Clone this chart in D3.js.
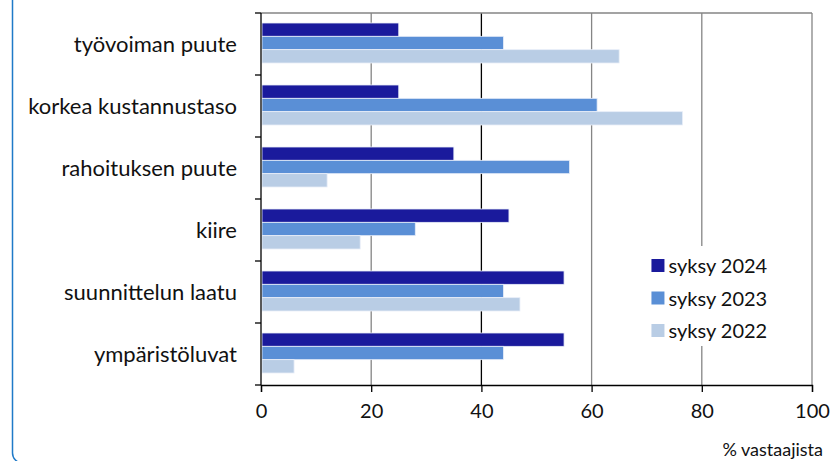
<!DOCTYPE html>
<html>
<head>
<meta charset="utf-8">
<script src="https://cdn.jsdelivr.net/npm/d3@7"></script>
<style>
  body { margin: 0; background: #fff; }
  svg { display: block; font-family: Lato, "Open Sans", sans-serif; }
</style>
</head>
<body>
<div id="chart"></div>
<script>
const width = 830;
const height = 461;

const margin = { top: 13, left: 261, bottom: 76, right: 18 };

// data
const categories = ["työvoiman puute", "korkea kustannustaso", "rahoituksen puute", "kiire", "suunnittelun laatu", "ympäristöluvat"];
const seriesNames = ["syksy 2024", "syksy 2023", "syksy 2022"];
const s2024 = [25, 25, 35, 45, 55, 55];
const s2023 = [44, 61, 56, 28, 44, 44];
const s2022 = [65, 76.5, 12, 18, 47, 6];
const xTicks = [0, 20, 40, 60, 80, 100];

const colors = ["#1a1a9c", "#5a8fd6", "#b9cde5"];
const seriesValues = [s2024, s2023, s2022];

const rows = [];
categories.forEach((c, i) => {
    seriesNames.forEach((s, j) => rows.push({ cat: c, series: s, value: seriesValues[j][i] }));
});

const innerW = width - margin.left - margin.right;
const innerH = height - margin.top - margin.bottom;

const svg = d3.select("#chart").append("svg").attr("width", width).attr("height", height);

// outer rounded frame (only left edge visible)
svg.append("rect")
    .attr("x", 12.5).attr("y", -20)
    .attr("width", 900).attr("height", 483)
    .attr("rx", 10)
    .attr("fill", "none")
    .attr("stroke", "#1f7ac8")
    .attr("stroke-width", 1.5);

const g = svg.append("g").attr("transform", `translate(${margin.left},${margin.top})`);

// scales
const xScale = d3.scaleLinear().domain([0, 100]).range([0, innerW]);
const yScale = d3.scaleBand().domain(categories).range([0, innerH]);
const subScale = d3.scaleBand().domain(seriesNames).range([10, yScale.bandwidth() - 12]);
const colorScale = d3.scaleOrdinal().domain(seriesNames).range(colors);

// grid lines
g.selectAll("line.grid")
    .data(xTicks.slice(1))
    .join("line")
    .attr("class", "grid")
    .attr("x1", d => xScale(d)).attr("x2", d => xScale(d))
    .attr("y1", 0).attr("y2", innerH)
    .attr("stroke", d => d === 40 ? "#000" : "#858585")
    .attr("stroke-width", 1.3);

g.append("line")
    .attr("x1", 0).attr("x2", innerW)
    .attr("y1", 0).attr("y2", 0)
    .attr("stroke", "#858585").attr("stroke-width", 1.3);

// bars
g.selectAll("rect.bar")
    .data(rows)
    .join("rect")
    .attr("class", "bar")
    .attr("x", xScale(0) + 1)
    .attr("y", d => yScale(d.cat) + subScale(d.series))
    .attr("width", d => xScale(d.value) - xScale(0) - 1)
    .attr("height", subScale.bandwidth())
    .attr("fill", d => colorScale(d.series))
    .attr("stroke", "#e8eef8")
    .attr("stroke-width", 0.8);

// y axis
const yAxis = g.append("g").attr("class", "y-axis");
yAxis.append("line")
    .attr("x1", 0).attr("x2", 0).attr("y1", 0).attr("y2", innerH)
    .attr("stroke", "#000").attr("stroke-width", 1.3);
yAxis.selectAll("line.ytick")
    .data(d3.range(categories.length + 1))
    .join("line")
    .attr("class", "ytick")
    .attr("x1", -6).attr("x2", 0)
    .attr("y1", i => i * yScale.step()).attr("y2", i => i * yScale.step())
    .attr("stroke", "#000").attr("stroke-width", 1.3);
yAxis.selectAll("text")
    .data(categories)
    .join("text")
    .attr("x", -24)
    .attr("y", d => yScale(d) + yScale.bandwidth() / 2)
    .attr("dy", "0.35em")
    .attr("text-anchor", "end")
    .attr("font-size", 22)
    .attr("fill", "#111")
    .text(d => d);

// x axis
const xAxis = d3.axisBottom(xScale).tickValues(xTicks).tickSize(7).tickPadding(12);
const xg = g.append("g")
    .attr("class", "x-axis")
    .attr("transform", `translate(0,${innerH})`)
    .call(xAxis);
xg.select(".domain").attr("stroke", "#000").attr("stroke-width", 1.3);
xg.selectAll(".tick line").attr("stroke", "#000").attr("stroke-width", 1.3);
xg.selectAll(".tick text")
    .attr("font-size", 20)
    .attr("font-family", "Lato, sans-serif")
    .attr("fill", "#111");

svg.append("text")
    .attr("x", 823)
    .attr("y", 456)
    .attr("text-anchor", "end")
    .attr("font-size", 18)
    .attr("fill", "#111")
    .text("% vastaajista");

// legend
const legendG = g.append("g").attr("transform", `translate(${xScale(70.5)},${233})`);
legendG.append("rect")
    .attr("x", 0).attr("y", 0)
    .attr("width", 118).attr("height", 100)
    .attr("fill", "#fff");
const legItem = legendG.selectAll("g.leg")
    .data(seriesNames)
    .join("g")
    .attr("class", "leg")
    .attr("transform", (d, i) => `translate(0,${13 + i * 32.5})`);
legItem.append("rect")
    .attr("x", 2).attr("y", 0)
    .attr("width", 13).attr("height", 13)
    .attr("fill", d => colorScale(d));
legItem.append("text")
    .attr("x", 19).attr("y", 7)
    .attr("dy", "0.35em")
    .attr("font-size", 20)
    .attr("fill", "#111")
    .text(d => d);
</script>
</body>
</html>
